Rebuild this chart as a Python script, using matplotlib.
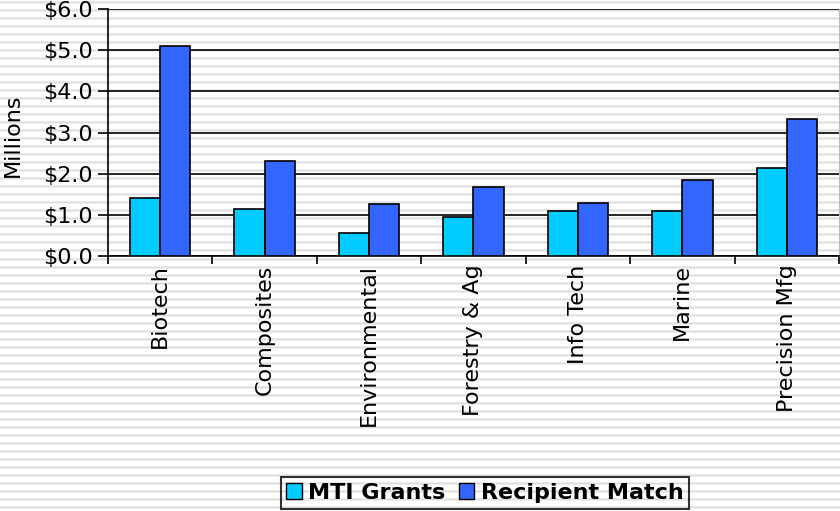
import numpy as np
import matplotlib
matplotlib.use("Agg")
import matplotlib.pyplot as plt
from matplotlib.patches import Patch

categories = ["Biotech", "Composites", "Environmental", "Forestry & Ag",
              "Info Tech", "Marine", "Precision Mfg"]
mti_grants = [1.40, 1.13, 0.56, 0.95, 1.09, 1.09, 2.14]
recipient_match = [5.10, 2.31, 1.26, 1.68, 1.29, 1.85, 3.33]
y_ticks = [0, 1, 2, 3, 4, 5, 6]
y_labels = ["$0.0", "$1.0", "$2.0", "$3.0", "$4.0", "$5.0", "$6.0"]

W, H = 840, 511
fig = plt.figure(figsize=(W / 100, H / 100), dpi=100)

# striped backdrop behind everything
bg = fig.add_axes([0, 0, 1, 1], zorder=-10)
rows = np.ones(H)
for r in range(H):
    m = r % 8
    if m == 2:
        rows[r] = 0.92
    elif m == 3:
        rows[r] = 0.87
    elif m == 4:
        rows[r] = 0.93
img = np.repeat(rows[:, None], 4, axis=1)
bg.imshow(img, cmap="gray", vmin=0, vmax=1, aspect="auto",
          extent=[0, 1, 0, 1], interpolation="nearest")
bg.set_axis_off()

left, right, top, bottom = 108, 839, 9, 256
ax = fig.add_axes([left / W, (H - bottom) / H, (right - left) / W, (bottom - top) / H])
ax.set_facecolor("none")

x = np.arange(len(categories))
bw = 0.29
ax.bar(x - bw / 2, mti_grants, bw, color="#00CCFF", edgecolor="black", linewidth=1.2,
       zorder=3, label="MTI Grants")
ax.bar(x + bw / 2, recipient_match, bw, color="#3366FF", edgecolor="black", linewidth=1.2,
       zorder=3, label="Recipient Match")

fs = 16
ax.set_xlim(-0.5, len(categories) - 0.5)
ax.set_ylim(0, 6)
ax.set_yticks(y_ticks)
ax.set_yticklabels(y_labels, fontsize=fs)
ax.yaxis.grid(True, color="black", linewidth=1.2, zorder=1)
ax.set_axisbelow(True)

ax.set_xticks(x)
ax.set_xticklabels(categories, rotation=90, fontsize=fs)
ax.set_xticks(np.arange(-0.5, len(categories)), minor=True)
ax.tick_params(axis="x", which="major", length=0, pad=6)
ax.tick_params(axis="x", which="minor", length=6, width=1.2, direction="out")
ax.tick_params(axis="y", length=7, width=1.2, direction="out", pad=4)

ax.spines["top"].set_visible(False)
ax.spines["right"].set_color("#bbbbbb")
ax.spines["left"].set_linewidth(1.2)
ax.spines["bottom"].set_linewidth(1.2)

ax.set_ylabel("Millions", fontsize=fs)
ax.yaxis.set_label_coords(-(left - 23) / (right - left), (bottom - 135) / (bottom - top))

handles = [Patch(facecolor="#00CCFF", edgecolor="black"),
           Patch(facecolor="#3366FF", edgecolor="black")]
leg = fig.legend(handles, ["MTI Grants", "Recipient Match"], loc="center",
                 bbox_to_anchor=(485 / W, (H - 493) / H), ncol=2, frameon=True,
                 prop={"weight": "bold", "size": fs}, handlelength=0.7, handleheight=0.7,
                 handletextpad=0.3, columnspacing=0.6, borderpad=0.25, fancybox=False)
leg.get_frame().set_edgecolor("black")
leg.get_frame().set_linewidth(1.5)
leg.get_frame().set_facecolor("none")

fig.savefig("out.png", dpi=100)
